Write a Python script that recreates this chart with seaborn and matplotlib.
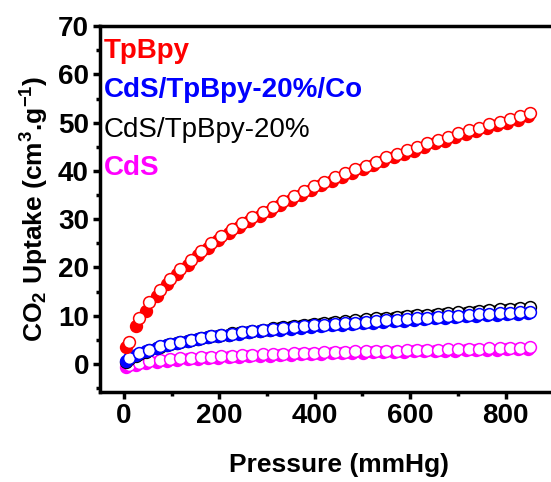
import matplotlib
matplotlib.use("Agg")
import matplotlib.pyplot as plt
from matplotlib.ticker import MultipleLocator
import numpy as np
import pandas as pd
import seaborn as sns

# Pressure points (mmHg): adsorption branch and desorption branch
p_ads = [5, 26, 47, 69, 90, 112, 134, 155, 177, 198, 220, 242, 263, 285, 306,
         328, 350, 371, 393, 414, 436, 458, 479, 501, 522, 544, 566, 587, 609,
         630, 652, 674, 695, 717, 738, 760, 782, 803, 825, 846]
p_des = [10, 32, 53, 75, 96, 118, 140, 161, 183, 204, 226, 248, 269, 291, 312,
         334, 356, 377, 399, 420, 442, 464, 485, 507, 528, 550, 572, 593, 615,
         636, 658, 680, 701, 723, 744, 766, 788, 809, 831, 852]

# CO2 uptake (cm3/g)
tpbpy_ads = [3.6, 7.9, 11.0, 14.0, 16.6, 18.6, 20.6, 22.5, 24.1, 25.6, 27.1,
             28.4, 29.6, 30.7, 31.8, 32.9, 34.0, 35.0, 36.0, 37.0, 37.9, 38.8,
             39.6, 40.4, 41.2, 42.0, 42.8, 43.5, 44.2, 45.0, 45.7, 46.3, 47.0,
             47.7, 48.3, 48.9, 49.5, 50.0, 50.6, 51.3]
tpbpy_des = [4.6, 9.6, 12.9, 15.3, 17.6, 19.6, 21.6, 23.5, 25.0, 26.6, 28.0,
             29.2, 30.4, 31.4, 32.6, 33.7, 34.8, 35.8, 36.8, 37.8, 38.7, 39.5,
             40.4, 41.1, 41.9, 42.8, 43.6, 44.3, 45.0, 45.8, 46.5, 47.1, 47.8,
             48.5, 49.0, 49.7, 50.2, 50.7, 51.4, 52.0]
co_ads = [0.7, 1.8, 2.7, 3.4, 3.95, 4.4, 4.8, 5.15, 5.5, 5.8, 6.05, 6.3, 6.55,
          6.75, 6.95, 7.15, 7.35, 7.55, 7.7, 7.85, 8.0, 8.15, 8.3, 8.45, 8.6,
          8.75, 8.9, 9.0, 9.15, 9.3, 9.45, 9.6, 9.75, 9.9, 10.0, 10.15, 10.25,
          10.35, 10.45, 10.55]
co_des = [1.2, 2.2, 3.0, 3.7, 4.2, 4.6, 5.0, 5.4, 5.75, 6.05, 6.3, 6.55, 6.8,
          7.0, 7.2, 7.45, 7.65, 7.8, 8.0, 8.15, 8.3, 8.45, 8.6, 8.75, 8.9, 9.05,
          9.2, 9.3, 9.45, 9.6, 9.75, 9.9, 10.05, 10.2, 10.3, 10.45, 10.55,
          10.65, 10.75, 10.85]
comp_ads = [0.4, 1.6, 2.5, 3.25, 3.85, 4.3, 4.75, 5.15, 5.5, 5.8, 6.1, 6.4,
            6.65, 6.9, 7.15, 7.4, 7.6, 7.8, 8.0, 8.2, 8.4, 8.6, 8.8, 9.0, 9.2,
            9.35, 9.55, 9.7, 9.85, 10.0, 10.15, 10.3, 10.45, 10.6, 10.75, 10.9,
            11.05, 11.2, 11.35, 11.5]
comp_des = [1.0, 2.1, 2.9, 3.6, 4.2, 4.6, 5.0, 5.4, 5.8, 6.1, 6.4, 6.65, 6.9,
            7.15, 7.4, 7.65, 7.85, 8.05, 8.25, 8.45, 8.65, 8.85, 9.05, 9.25,
            9.45, 9.6, 9.8, 9.95, 10.1, 10.25, 10.4, 10.55, 10.7, 10.85, 11.0,
            11.15, 11.3, 11.45, 11.6, 11.75]
cds_ads = [-0.6, -0.1, 0.25, 0.5, 0.7, 0.85, 1.0, 1.1, 1.2, 1.3, 1.4, 1.5, 1.6,
           1.7, 1.75, 1.85, 1.9, 2.0, 2.05, 2.1, 2.2, 2.25, 2.3, 2.35, 2.4, 2.45,
           2.5, 2.55, 2.6, 2.65, 2.7, 2.75, 2.8, 2.85, 2.9, 2.95, 3.0, 3.05,
           3.1, 3.15]
cds_des = [-0.3, 0.3, 0.6, 0.85, 1.0, 1.15, 1.3, 1.4, 1.5, 1.6, 1.7, 1.8, 1.9,
           2.0, 2.05, 2.15, 2.2, 2.3, 2.35, 2.4, 2.5, 2.55, 2.6, 2.65, 2.7, 2.75,
           2.8, 2.85, 2.9, 2.95, 3.0, 3.05, 3.1, 3.15, 3.2, 3.25, 3.3, 3.35,
           3.4, 3.45]

labels = ["TpBpy", "CdS/TpBpy-20%/Co", "CdS/TpBpy-20%", "CdS"]
colors = ["#FF0000", "#0000FF", "#000000", "#FF00FF"]
weights = ["bold", "bold", "normal", "bold"]

series = {
    "TpBpy": (tpbpy_ads, tpbpy_des),
    "CdS/TpBpy-20%/Co": (co_ads, co_des),
    "CdS/TpBpy-20%": (comp_ads, comp_des),
    "CdS": (cds_ads, cds_des),
}

rows = []
for name, (ads, des) in series.items():
    rows += [dict(sample=name, branch="ads", p=p, v=v) for p, v in zip(p_ads, ads)]
    rows += [dict(sample=name, branch="des", p=p, v=v) for p, v in zip(p_des, des)]
df = pd.DataFrame(rows)

sns.set_style("ticks")
plt.rcParams["font.family"] = ["Liberation Sans", "DejaVu Sans"]
plt.rcParams["font.weight"] = "bold"
plt.rcParams["mathtext.default"] = "regular"
plt.rcParams["text.color"] = "black"
plt.rcParams["axes.labelcolor"] = "black"
plt.rcParams["xtick.color"] = "black"
plt.rcParams["ytick.color"] = "black"

fig = plt.figure(figsize=(5.51, 4.82), dpi=100)
ax = fig.add_axes([0.1815, 0.1867, 0.866, 0.759])

color_of = dict(zip(labels, colors))
draw_order = ["CdS", "CdS/TpBpy-20%", "CdS/TpBpy-20%/Co", "TpBpy"]
for name in draw_order:
    c = color_of[name]
    sub = df[df["sample"] == name]
    a = sub[sub["branch"] == "ads"]
    d = sub[sub["branch"] == "des"]
    sns.lineplot(data=a, x="p", y="v", ax=ax, color=c, linestyle="", marker="o",
                 markersize=8.5, markerfacecolor=c, markeredgecolor=c,
                 markeredgewidth=1.1, sort=False, estimator=None)
    sns.lineplot(data=d, x="p", y="v", ax=ax, color=c, linestyle="", marker="o",
                 markersize=8.5, markerfacecolor="white", markeredgecolor=c,
                 markeredgewidth=1.1, sort=False, estimator=None)

ax.set_xlim(-50, 950)
ax.set_ylim(-5.8, 70)
ax.xaxis.set_major_locator(MultipleLocator(200))
ax.xaxis.set_minor_locator(MultipleLocator(100))
ax.yaxis.set_major_locator(MultipleLocator(10))
ax.yaxis.set_minor_locator(MultipleLocator(5))

for s in ["left", "bottom", "top", "right"]:
    ax.spines[s].set_linewidth(2.5)
    ax.spines[s].set_color("black")
    ax.spines[s].set_visible(True)

ax.tick_params(which="major", direction="out", length=5, width=2.5,
               labelsize=20, pad=3, top=False, right=False,
               color="black", labelcolor="black")
ax.tick_params(which="minor", direction="out", length=3, width=2.5,
               top=False, right=False, color="black")
for lab in ax.get_xticklabels() + ax.get_yticklabels():
    lab.set_fontweight("bold")

ax.set_xlabel("Pressure (mmHg)", fontsize=19, fontweight="bold", labelpad=17,
              color="black")
ax.set_ylabel("CO$_2$ Uptake (cm$^3$.g$^{-1}$)", fontsize=19,
              fontweight="bold", labelpad=5, color="black")

ybase = [0.913, 0.806, 0.697, 0.593]
for name, c, w, yb in zip(labels, colors, weights, ybase):
    ax.text(0.008, yb, name, color=c, fontsize=20, fontweight=w,
            transform=ax.transAxes, ha="left", va="baseline")

legend = ax.get_legend()
if legend is not None:
    legend.remove()

fig.savefig("out.png", dpi=100)
